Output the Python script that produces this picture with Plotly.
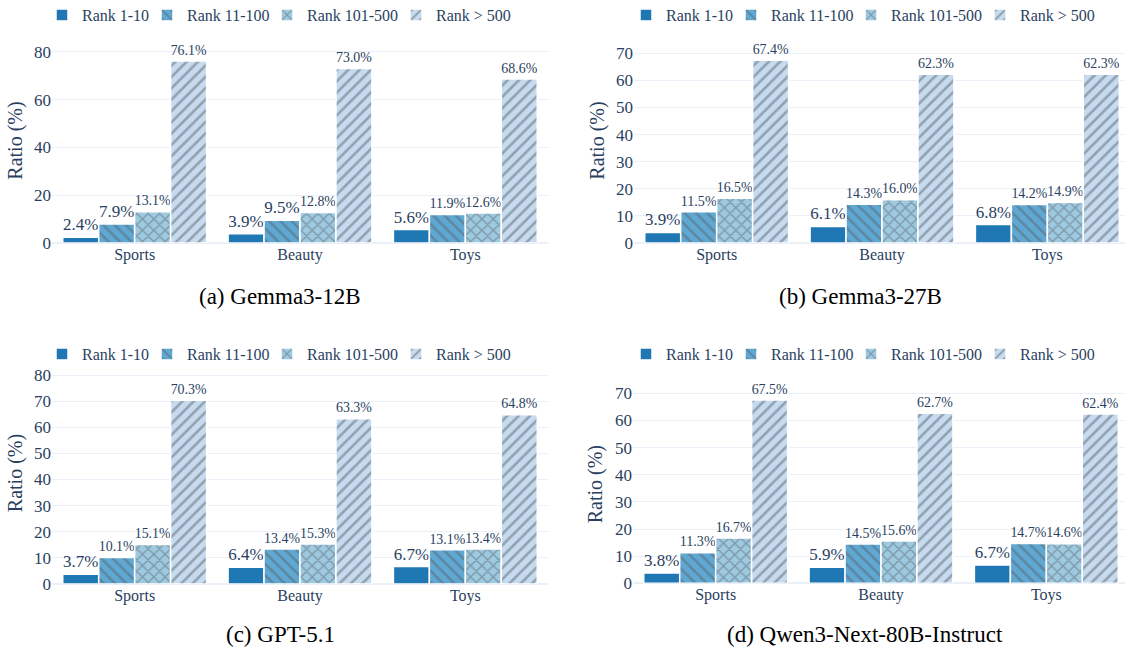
import plotly.graph_objects as go

categories = ["Sports", "Beauty", "Toys"]
series_names = ["Rank 1-10", "Rank 11-100", "Rank 101-500", "Rank > 500"]

gemma3_12b = [[2.4, 3.9, 5.6], [7.9, 9.5, 11.9], [13.1, 12.8, 12.6], [76.1, 73.0, 68.6]]
gemma3_27b = [[3.9, 6.1, 6.8], [11.5, 14.3, 14.2], [16.5, 16.0, 14.9], [67.4, 62.3, 62.3]]
gpt_5_1 = [[3.7, 6.4, 6.7], [10.1, 13.4, 13.1], [15.1, 15.3, 13.4], [70.3, 63.3, 64.8]]
qwen3_80b = [[3.8, 5.9, 6.7], [11.3, 14.5, 14.7], [16.7, 15.6, 14.6], [67.5, 62.7, 62.4]]

captions = ["(a) Gemma3-12B", "(b) Gemma3-27B", "(c) GPT-5.1", "(d) Qwen3-Next-80B-Instruct"]
panels_data = [gemma3_12b, gemma3_27b, gpt_5_1, qwen3_80b]
y_dtick = [20, 10, 10, 10]

colors = ["#1f77b4", "#5fa8d3", "#9ecae1", "#c6dbef"]
shapes = ["", "\\", "x", "/"]
legend_widths = [60, 75, 84, 75]

W, H = 1125, 649
FONT = '"Liberation Serif", "Times New Roman", Times, serif'
TXT = "#2a3f5f"

# panel geometry in pixels
geo = [
    dict(xl=52, xr=548, fw=496, y0=243.0, ppu=2.39, yt=38, lx=42, ly=-2, cx=280, cy=296),
    dict(xl=634, xr=1125, fw=496, y0=243.0, ppu=2.71, yt=38, lx=626, ly=-2, cx=860, cy=296),
    dict(xl=52, xr=548, fw=496, y0=584.0, ppu=2.6125, yt=362, lx=42, ly=337, cx=280, cy=634),
    dict(xl=633, xr=1125, fw=496, y0=583.3, ppu=2.714, yt=385, lx=626, ly=337, cx=865, cy=634),
]

fig = go.Figure()
layout = dict(
    template="plotly_white",
    width=W, height=H,
    margin=dict(l=0, r=0, t=0, b=0, autoexpand=False),
    font=dict(family=FONT, color=TXT, size=16),
    barmode="group", bargap=0.13, bargroupgap=0.0,
    paper_bgcolor="white", plot_bgcolor="white",
    annotations=[],
)

for p, (data, g) in enumerate(zip(panels_data, geo)):
    sfx = "" if p == 0 else str(p + 1)
    xa, ya = "x" + sfx, "y" + sfx
    leg = "legend" + sfx
    for s, name in enumerate(series_names):
        fig.add_trace(go.Bar(
            x=categories, y=data[s], name=name,
            xaxis=xa, yaxis=ya, legend=leg, legendwidth=legend_widths[s],
            marker=dict(color=colors[s], line=dict(color="white", width=1.5),
                        pattern=dict(shape=shapes[s], fgcolor="#5c6670", size=8, solidity=0.32)),
            text=[f"{v:.1f}%" for v in data[s]],
            textposition="outside", cliponaxis=False,
            textfont=dict(family=FONT, size=17, color=TXT),
            offsetgroup=str(s),
        ))
    xend = -0.5 + 3 * (g["xr"] - g["xl"]) / g["fw"]
    ymax = (g["y0"] - g["yt"]) / g["ppu"]
    layout["xaxis" + sfx] = dict(
        domain=[g["xl"] / W, g["xr"] / W], anchor=ya, range=[-0.5, xend],
        tickfont=dict(size=16, family=FONT, color=TXT), showgrid=False,
    )
    layout["yaxis" + sfx] = dict(
        domain=[1 - g["y0"] / H, 1 - g["yt"] / H], anchor=xa, range=[0, ymax],
        dtick=y_dtick[p], tick0=0,
        title=dict(text="Ratio (%)", font=dict(size=20, family=FONT, color=TXT), standoff=6),
        tickfont=dict(size=17, family=FONT, color=TXT),
        gridcolor="#ebf0f8", zerolinecolor="#ebf0f8", zerolinewidth=2,
    )
    layout[leg] = dict(
        orientation="h", x=g["lx"] / W, xanchor="left",
        y=1 - g["ly"] / H, yanchor="top",
        font=dict(size=16, family=FONT, color=TXT),
        bgcolor="rgba(0,0,0,0)",
    )
    layout["annotations"].append(dict(
        text=captions[p], xref="paper", yref="paper",
        x=g["cx"] / W, y=1 - g["cy"] / H, xanchor="center", yanchor="middle",
        showarrow=False, font=dict(size=23, family=FONT, color="black"),
    ))

fig.update_layout(**layout)
fig.write_html(
    "out.html",
    config={"displayModeBar": False},
    post_script="document.body.style.margin='0px';document.body.style.overflow='hidden';",
)
